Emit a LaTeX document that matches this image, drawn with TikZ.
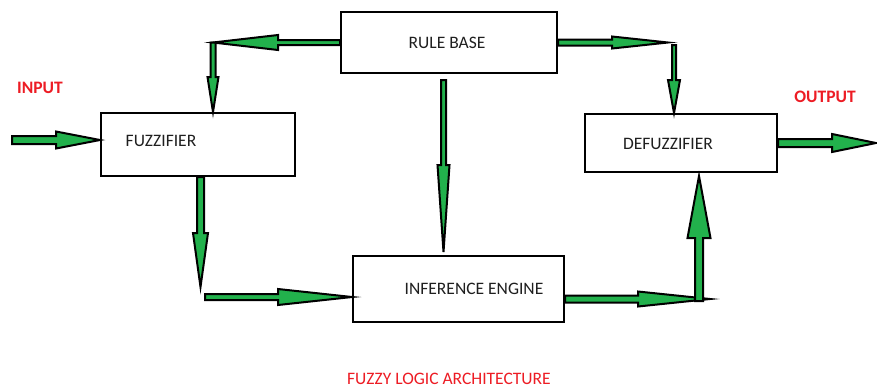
\documentclass[tikz,border=0pt]{standalone}
\usepackage{fontspec}
\setmainfont{Carlito}
\usetikzlibrary{calc}
\definecolor{arrowgreen}{RGB}{34,177,76}
\definecolor{labelred}{RGB}{237,28,36}
\newcommand\blockarrow[5]{%
  \coordinate (hb) at ($(#2)!#5!(#1)$);
  \draw[arrowbody] ($(#1)!#3!90:(#2)$) -- ($(hb)!#3!90:(#2)$) -- ($(hb)!#4!90:(#2)$) -- (#2)
    -- ($(hb)!#4!-90:(#2)$) -- ($(hb)!#3!-90:(#2)$) -- ($(#1)!#3!-90:(#2)$) -- cycle;}
\begin{document}
\begin{tikzpicture}[x=1pt,y=-1pt,
  box/.style={draw=black,line width=2pt,fill=white,rectangle,inner sep=0pt},
  boxtext/.style={font=\fontsize{17.5}{20}\selectfont,text=black!88,inner sep=0pt},
  redtext/.style={font=\fontsize{17.5}{20}\selectfont,text=labelred,inner sep=0pt},
  arrowbody/.style={draw=black,line width=2pt,fill=arrowgreen,line join=miter}]
\fill[white] (0,0) rectangle (877,389);
\useasboundingbox (0,0) rectangle (877,389);
% boxes
\node[box,minimum width=216pt,minimum height=61pt] (rule) at (449,42.5) {};
\node[box,minimum width=194pt,minimum height=63pt] (fuz) at (198,144.5) {};
\node[box,minimum width=192pt,minimum height=58pt] (defuz) at (681,143) {};
\node[box,minimum width=211pt,minimum height=66pt] (inf) at (458.5,289) {};
% box texts
\node[boxtext] (rulet) at (447,43) {RULE BASE};
\node[boxtext] (fuzt) at (161,141) {FUZZIFIER};
\node[boxtext] (defuzt) at (668,144) {DEFUZZIFIER};
\node[boxtext] (inft) at (474,289) {INFERENCE ENGINE};
% labels
\node[redtext,font=\fontsize{17.5}{20}\selectfont\bfseries] (inl) at (40,88) {INPUT};
\node[redtext,font=\fontsize{17.5}{20}\selectfont\bfseries] (outl) at (825,97) {OUTPUT};
\node[redtext] (title) at (449,379) {FUZZY LOGIC ARCHITECTURE};
% connector points
\coordinate (inS) at (12,140);
\coordinate (inE) at (fuz.west |- inS);
\coordinate (rbL) at (rule.west);
\coordinate (rbR) at (rule.east);
\coordinate (c1) at (213,42.5);
\coordinate (c1d) at (c1 |- fuz.north);
\coordinate (c2) at (668,42.5);
\coordinate (c3) at (674,45);
\coordinate (c3d) at (c3 |- defuz.north);
\coordinate (outS) at (defuz.east);
\coordinate (outE) at (876,143);
\coordinate (c4) at (200.5,287);
\coordinate (c4s) at (c4 |- fuz.south);
\coordinate (c6) at (205,297);
\coordinate (c6e) at (inf.west |- c6);
\coordinate (c7) at (443.5,80);
\coordinate (c7e) at ($(c7 |- inf.north)+(0,-3)$);
\coordinate (c8) at (710,299);
\coordinate (c8s) at (inf.east |- c8);
\coordinate (c9) at (699,301);
\coordinate (c9e) at ($(c9 |- defuz.south)+(0,3)$);
% arrows
\blockarrow{inS}{inE}{4pt}{8.5pt}{44pt}
\blockarrow{rbL}{c1}{2.5pt}{7.5pt}{65pt}
\blockarrow{c1}{c1d}{2.5pt}{5.5pt}{35pt}
\blockarrow{rbR}{c2}{3pt}{6pt}{56pt}
\blockarrow{c3}{c3d}{2pt}{6pt}{33pt}
\blockarrow{outS}{outE}{4pt}{9pt}{44pt}
\blockarrow{c4s}{c4}{3.5pt}{7.5pt}{54pt}
\blockarrow{c6}{c6e}{3pt}{8pt}{74pt}
\blockarrow{c7}{c7e}{2.5pt}{6pt}{87pt}
\blockarrow{c8s}{c8}{3.5pt}{7.5pt}{72pt}
\blockarrow{c9}{c9e}{4pt}{11.5pt}{62pt}
\end{tikzpicture}
\end{document}
